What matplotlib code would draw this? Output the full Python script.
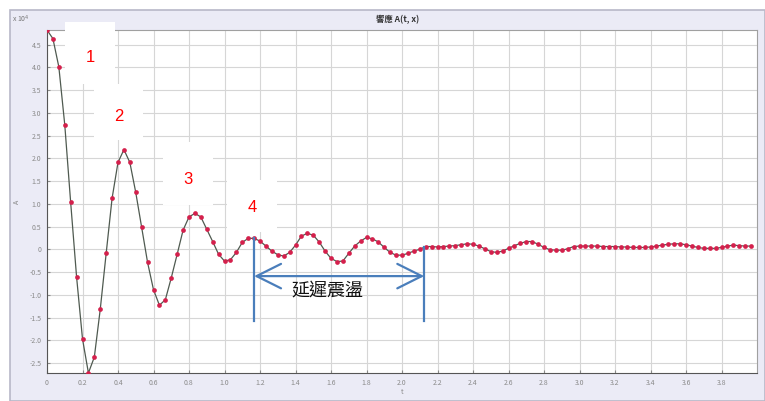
import matplotlib.pyplot as plt
import numpy as np
from matplotlib.patches import Rectangle

# response samples, dt = 1/30 s, amplitude in units of 1e4
dt = 1.0 / 30
amp = [4.82, 4.63, 4.01, 2.74, 1.03, -0.61, -1.97, -2.72, -2.37, -1.32,
       -0.09, 1.12, 1.91, 2.19, 1.91, 1.25, 0.48, -0.29, -0.89, -1.23,
       -1.11, -0.63, -0.11, 0.42, 0.71, 0.79, 0.71, 0.44, 0.17, -0.11,
       -0.26, -0.23, -0.07, 0.15, 0.24, 0.24, 0.18, 0.07, -0.04, -0.12,
       -0.15, -0.07, 0.09, 0.29, 0.35, 0.31, 0.16, -0.04, -0.20, -0.27,
       -0.26, -0.09, 0.07, 0.18, 0.26, 0.23, 0.16, 0.04, -0.07, -0.13,
       -0.13, -0.09, -0.04, 0.00, 0.06, 0.06, 0.05, 0.06, 0.07, 0.08,
       0.10, 0.12, 0.11, 0.07, 0.01, -0.05, -0.07, -0.04, 0.02, 0.08,
       0.13, 0.17, 0.17, 0.11, 0.04, -0.01, -0.02, -0.02, 0.01, 0.06,
       0.07, 0.07, 0.07, 0.07, 0.06, 0.06, 0.06, 0.05, 0.05, 0.04,
       0.04, 0.04, 0.05, 0.07, 0.09, 0.11, 0.12, 0.12, 0.10, 0.07,
       0.04, 0.02, 0.02, 0.02, 0.04, 0.07, 0.09, 0.08, 0.07, 0.07]
t = np.arange(len(amp)) * dt

xticks = np.arange(0, 3.81, 0.2)
xlabels = ['0'] + ['%.1f' % v for v in xticks[1:]]
yticks = np.arange(-2.5, 4.51, 0.5)
ylabels = ['0' if abs(v) < 1e-9 else '%.1f' % v for v in yticks]

peak_labels = ['1', '2', '3', '4']
delay_text = '延遲震盪'

W, H = 765, 401
fig = plt.figure(figsize=(W / 100, H / 100), dpi=100)
plt.rcParams['font.family'] = ['Noto Sans CJK TC', 'DejaVu Sans']

def px(x, y, w=0, h=0):
    # pixel box (top-left origin) -> figure fraction rect
    return (x / W, 1 - (y + h) / H, w / W, h / H)

# window panel behind the axes
x0, y0, w0, h0 = px(10, 10, 755, 391)
fig.add_artist(Rectangle((x0, y0), w0, h0, transform=fig.transFigure,
                         facecolor='#ebebf6', edgecolor='#b8b8c8', lw=1.2, zorder=-5))

ax = fig.add_axes([47 / W, 1 - 373 / H, 710 / W, 343 / H])
ax.set_facecolor('white')
ax.plot(t, amp, color='#4f5a50', lw=0.9, zorder=2)
ax.plot(t, amp, 'o', color='#d4204c', ms=3.4, mec='none', zorder=3)

ax.set_xlim(0, 4.0)
ax.set_ylim(-2.72, 4.82)
ax.set_xticks(xticks)
ax.set_xticklabels(xlabels)
ax.set_yticks(yticks)
ax.set_yticklabels(ylabels)
ax.tick_params(labelsize=5, colors='#8a8a8a', length=2, direction='in', pad=4)
ax.grid(True, color='#d6d6d6', lw=0.8)
for side in ['left', 'bottom']:
    ax.spines[side].set_color('#555555')
for side in ['top', 'right']:
    ax.spines[side].set_color('#a0a0a0')

ax.set_xlabel('t', fontsize=5, color='#888888', labelpad=1)
ax.set_ylabel('A', fontsize=5, color='#888888', labelpad=6)
fig.text(12 / W, 1 - 19 / H, r'x 10$^4$', fontsize=5, color='#777777', va='center')
fig.text(398 / W, 1 - 20 / H, '響應 A(t, x)', fontsize=6, color='#333333',
         ha='center', va='center', fontweight='bold')

# white label boxes with peak numbers
boxes = [(65, 22, 50, 62), (94, 84, 49, 56), (163, 142, 50, 63), (227, 180, 50, 52)]
num_pos = [(90, 58), (119, 117), (188, 179), (252, 207)]
for (bx, by, bw, bh), (nx, ny), lab in zip(boxes, num_pos, peak_labels):
    r = px(bx, by, bw, bh)
    fig.add_artist(Rectangle(r[:2], r[2], r[3], transform=fig.transFigure,
                             facecolor='white', edgecolor='none', zorder=5))
    fig.text(nx / W, 1 - ny / H, lab, color='#ff0000', fontsize=12,
             family='Liberation Sans', ha='center', va='center', zorder=6)

# delayed oscillation span
blue = '#4a7ebb'
i0, i1 = 35, 64
y_low = -1.58
ax.plot([t[i0], t[i0]], [amp[i0], y_low], color=blue, lw=1.6, zorder=4)
ax.plot([t[i1] - 0.008, t[i1] - 0.008], [amp[i1], y_low], color=blue, lw=1.6, zorder=4)
ax.annotate('', xy=(t[i0], -0.59), xytext=(t[i1] - 0.008, -0.59),
            arrowprops=dict(arrowstyle='<->,head_length=1.1,head_width=0.55',
                            color=blue, lw=1.6, mutation_scale=16,
                            shrinkA=0, shrinkB=0), zorder=4)
ax.text((t[i0] + t[i1]) / 2 - 0.07, -0.93, delay_text, fontsize=13,
        ha='center', va='center', color='#111111', zorder=4)

fig.savefig('out.png', dpi=100)
